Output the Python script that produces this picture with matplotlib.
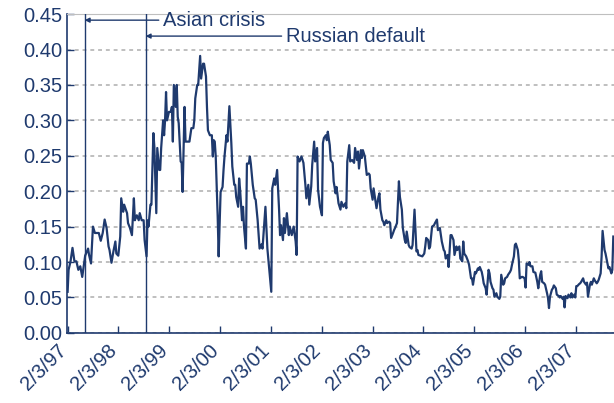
import pandas as pd
import numpy as np
import matplotlib
matplotlib.use("Agg")
import matplotlib.pyplot as plt
import matplotlib.transforms as mtransforms
from matplotlib.ticker import FormatStrFormatter

plt.rcParams['font.family'] = ['Liberation Sans', 'DejaVu Sans']

azul = "#1F3A6E"
gris = "#BFBFBF"

#-----------------------------------------------------------------
# serie semanal: semanas desde el 3 feb 1997 y valor
inicio = pd.Timestamp("1997-02-03")

semanas = [0, 1, 3, 5, 7, 9, 11, 13, 15, 18, 21, 22, 24, 26, 28, 32, 34, 36, 38, 40,
           42, 43, 45, 47, 49, 50, 52, 54, 55, 57, 58, 61, 62, 64, 66, 68, 69, 71, 73, 74,
           76, 78, 79, 81,
           82, 83, 85, 86, 88, 89, 91, 92, 94, 95, 96, 98, 99, 100, 101, 102, 104, 106, 107, 108,
           109, 111, 112, 113, 114, 116, 117, 118, 120, 121, 123, 125, 127, 129, 130, 131, 133, 134, 136, 137,
           139, 140, 142, 143, 144, 146, 148, 149, 150, 151, 152, 154, 155, 157, 159, 160,
           161, 163, 164, 166, 168, 169, 171, 172, 173, 175, 176, 177, 179, 180, 181, 183, 184, 186, 187, 188,
           190, 192, 193, 195, 196, 197, 199, 200, 202, 203, 205, 207, 209, 210, 212, 213, 215, 217, 218, 219,
           221, 222, 223, 225, 227, 228, 230, 232, 234, 235, 236, 238,
           240, 242, 244, 245, 247, 248, 250, 251, 253, 254, 256, 257, 259, 261, 262, 263, 265, 266, 267, 269,
           270, 272, 273, 275, 276, 278, 280, 281, 283, 285, 286, 287, 289, 290, 292, 294, 295, 297, 298, 299,
           301, 302, 303, 305, 307, 309, 310, 311, 313, 314, 316, 317, 319,
           320, 321, 323, 324, 325, 327, 328, 330, 331, 332, 334, 335, 336, 338, 340, 341, 343, 344, 346, 347,
           348, 350, 351, 353, 354, 356, 358, 359, 360, 362, 364, 366, 367, 368, 370, 371, 372, 373, 374, 376,
           377, 379, 380, 382, 383, 384, 386, 387, 388, 390, 391, 393, 394, 396, 397, 399,
           400, 402, 403, 405, 406, 407, 409, 411, 412, 414, 415, 416, 418, 419, 421, 422, 423, 425, 426, 427,
           429, 430, 432, 433, 434, 436, 437, 438, 440, 441, 443, 444, 445, 447, 448, 449, 451, 452, 454, 455,
           456, 458, 459, 460, 462, 463, 464, 466, 467, 469, 470, 471, 473, 474, 475, 477, 478,
           480, 482, 483, 485, 486, 487, 489, 490, 492, 493, 494, 495, 497, 498, 499, 501, 502, 504, 505, 506,
           508, 509, 510, 511, 513, 514, 516, 517, 518, 520, 521, 522, 523, 525, 526, 527, 529, 530, 532, 533,
           534, 536, 537, 538, 540, 541, 543, 544, 545, 547, 548, 549, 551, 552, 554, 555, 556, 558, 559, 560]

valores = [.058, .089, .101, .120, .101, .101, .089, .094, .079, .109, .119, .110, .098, .150, .141, .141, .130, .141, .160, .148,
           .122, .117, .099, .115, .129, .112, .109, .136, .190, .171, .181, .169, .155, .148, .138, .190, .159, .166, .159, .169,
           .159, .159, .131, .108,
           .159, .150, .181, .181, .282, .263, .169, .261, .230, .230, .261, .300, .279, .300, .340, .300, .312, .312, .319, .270,
           .350, .319, .350, .305, .296, .242, .240, .199, .319, .270, .270, .270, .289, .289, .300, .331, .350, .350, .391, .359,
           .380, .380, .362, .319, .286, .279, .279, .249, .272, .270, .249, .164, .108, .199, .206, .230,
           .249, .279, .270, .320, .268, .235, .209, .209, .192, .178, .218, .202, .159, .178, .150, .119, .239, .239, .249, .239,
           .209, .190, .188, .159, .138, .119, .125, .119, .157, .178, .119, .089, .058, .204, .218, .209, .230, .174, .138, .152,
           .131, .162, .141, .169, .138, .150, .138, .150, .129, .110, .249, .242,
           .249, .240, .209, .190, .209, .181, .207, .237, .270, .242, .261, .202, .178, .166, .268, .275, .279, .272, .284, .265,
           .244, .240, .214, .197, .206, .183, .174, .185, .178, .183, .176, .242, .265, .242, .244, .240, .261, .244, .256, .232,
           .258, .247, .258, .249, .223, .225, .223, .204, .188, .204, .185, .176, .192,
           .197, .174, .159, .157, .152, .159, .155, .157, .155, .134, .141, .145, .148, .155, .214, .192, .174, .148, .131, .127,
           .143, .124, .121, .119, .124, .174, .115, .117, .110, .109, .108, .112, .122, .134, .131, .119, .122, .136, .150, .152,
           .155, .160, .145, .148, .138, .129, .117, .115, .105, .110, .093, .138, .138, .131, .110, .122,
           .117, .122, .105, .101, .129, .112, .108, .101, .096, .077, .077, .068, .086, .084, .091, .089, .093, .086, .079, .070,
           .063, .054, .089, .084, .072, .063, .061, .051, .056, .051, .048, .051, .082, .068, .070, .077, .079, .082, .086, .089,
           .096, .108, .124, .126, .117, .103, .077, .079, .079, .077, .064, .098, .096, .100, .094, .094, .086,
           .085, .072, .063, .082, .087, .072, .070, .068, .056, .049, .035, .051, .061, .063, .067, .063, .054, .052, .050, .052,
           .048, .051, .036, .052, .049, .054, .050, .056, .050, .054, .050, .066, .066, .069, .070, .072, .077, .072, .068, .071,
           .051, .068, .072, .068, .077, .074, .070, .072, .075, .084, .108, .144, .117, .112, .098, .091, .093, .084, .089, .136]

fechas = inicio + pd.to_timedelta(np.array(semanas) * 7, unit="D")

crisis_asia = pd.Timestamp("1997-06-05")
default_rusia = pd.Timestamp("1998-08-17")

anios = list(range(1997, 2008))
ticks = [pd.Timestamp(f"{a}-02-03") for a in anios]
etiquetas = [f"2/3/{str(a)[2:]}" for a in anios]
#-----------------------------------------------------------------

fig = plt.figure(figsize=(6.14, 4.03), dpi=100)
ax = fig.add_axes([0.109, 0.174, 0.891, 0.791])

ax.plot(fechas, valores, color=azul, lw=1.6, zorder=3)
ax.axvline(crisis_asia, color=azul, lw=1.0, zorder=4)
ax.axvline(default_rusia, color=azul, lw=1.0, zorder=4)

ax.set_ylim(0, 0.45)
ax.set_yticks(np.arange(0, 0.451, 0.05))
ax.yaxis.set_major_formatter(FormatStrFormatter('%.2f'))
ax.set_xlim(fechas[0] - pd.Timedelta(days=5), fechas[-1] + pd.Timedelta(days=5))
ax.set_xticks(ticks)
ax.set_xticklabels([])

# etiquetas del eje x a mano, corridas un poco a la izquierda
corrimiento = mtransforms.ScaledTranslation(-11 / 100, -8 / 100, fig.dpi_scale_trans)
trans_x = ax.get_xaxis_transform() + corrimiento
for t, etq in zip(ticks, etiquetas):
    ax.text(t, 0, etq, transform=trans_x, rotation=45, ha='right', va='top',
            rotation_mode='anchor', fontsize=14.5, color=azul, clip_on=False)

ax.grid(axis='y', color=gris, ls=(0, (2, 2)), lw=1.4)
ax.grid(axis='x', visible=False)
ax.set_axisbelow(True)

for lado in ['left', 'bottom']:
    ax.spines[lado].set_color(azul)
    ax.spines[lado].set_linewidth(1.2)
ax.spines['right'].set_visible(False)
ax.spines['top'].set_color(gris)

ax.tick_params(direction='in', colors=azul, labelsize=14.5, length=5, width=1)

ax.annotate("Asian crisis", xy=(crisis_asia, 0.981), xycoords=('data', 'axes fraction'),
            xytext=(0.1755, 0.981), textcoords='axes fraction', ha='left', va='center',
            fontsize=14.5, color=azul,
            arrowprops=dict(arrowstyle='-|>', color=azul, lw=1, shrinkA=1, shrinkB=0, mutation_scale=7))
ax.annotate("Russian default", xy=(default_rusia, 0.931), xycoords=('data', 'axes fraction'),
            xytext=(0.400, 0.931), textcoords='axes fraction', ha='left', va='center',
            fontsize=14.5, color=azul,
            arrowprops=dict(arrowstyle='-|>', color=azul, lw=1, shrinkA=1, shrinkB=0, mutation_scale=7))

fig.savefig("out.png", dpi=100)
